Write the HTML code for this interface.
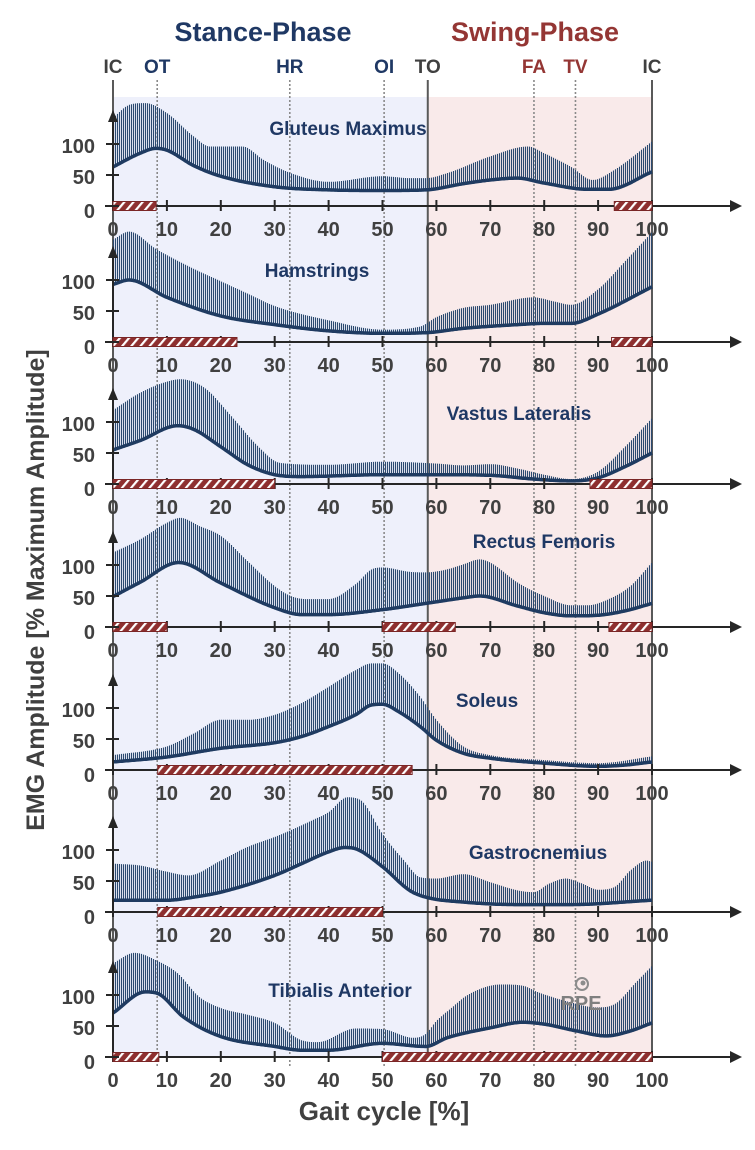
<!DOCTYPE html>
<html><head><meta charset="utf-8">
<style>
html,body{margin:0;padding:0;background:#fff;}
svg{display:block;font-family:"Liberation Sans",sans-serif;}
</style></head>
<body>
<svg id="chart" width="755" height="1150" viewBox="0 0 755 1150" xmlns="http://www.w3.org/2000/svg">
<defs>
<pattern id="hatchRed" patternUnits="userSpaceOnUse" width="7" height="7" patternTransform="rotate(40)">
<rect width="7" height="7" fill="#8e2f2f"/>
<rect x="0" y="0" width="2.2" height="7" fill="#ffffff"/>
</pattern>
</defs>
<g id="bg"></g>
<g id="plots"></g>
<g id="labels"></g>
</svg>
<script>
// ---- data ----
const muscleNames = ["Gluteus Maximus","Hamstrings","Vastus Lateralis","Rectus Femoris","Soleus","Gastrocnemius","Tibialis Anterior"];
const xTicks = [0,10,20,30,40,50,60,70,80,90,100];
const yTicks = [0,50,100];
const eventNames = ["IC","OT","HR","OI","TO","FA","TV","IC"];
const eventPct = [0,8.2,32.8,50.3,58.4,78.1,85.8,100];

const glutMeanX = [0,5,8,10,15,20,30,40,50,58,65,70,75,80,88,92,100];
const glutMeanY = [63,85,93,90,65,48,31,26,25,26,36,42,45,37,27,27,55];
const glutUpX = [0,3,6,10,15,18,24,28,33,40,50,55,58,62,70,77,80,85,89,93,100];
const glutUpY = [142,163,166,150,112,96,96,74,53,39,48,45,45,53,80,96,85,63,42,58,104];

const hamMeanX = [0,3,10,20,30,40,50,58,65,75,80,85,90,100];
const hamMeanY = [93,100,72,42,28,18,14,15,22,28,30,30,45,89];
const hamUpX = [0,3,8,15,20,25,30,40,50,57,60,65,70,78,82,85,90,95,100];
const hamUpY = [165,178,150,118,98,78,58,35,20,25,40,55,60,72,65,60,85,130,177];

const vasMeanX = [0,5,12,15,20,25,30,35,50,60,70,78,85,90,95,100];
const vasMeanY = [55,70,94,88,60,31,15,12,15,15,14,8,5,10,28,50];
const vasUpX = [0,5,10,12.5,17,22,27,31,40,50,60,65,70,75,80,85,90,95,100];
const vasUpY = [119,147,165,169,155,109,60,34,31,36,33,30,32,25,15,8,20,60,106];

const recMeanX = [0,5,12.2,20,30,35,40,50,58,65,68,75,80,85,90,95,100];
const recMeanY = [49,72,104,71,31,20,20,28,38,47,50,34,23,18,19,26,38];
const recUpX = [0,5,10,12.5,16,20,25,30,33,36,40,45,48,50,55,58,62,65,68,70,75,80,85,88,92,96,100];
const recUpY = [120,141,168,176,163,147,106,66,50,45,45,69,93,96,89,88,93,101,109,104,72,50,35,35,45,66,104];

const solMeanX = [0,10,20,30,35,40,45,48,50,53,57,60,65,70,80,90,95,100];
const solMeanY = [13,21,35,44,54,70,89,105,106,94,70,48,27,19,11,6,8,13];
const solUpX = [0,10,15,20,25,30,35,40,45,48,50,53,57,60,65,70,80,90,100];
const solUpY = [24,38,59,81,81,89,108,134,161,172,172,156,118,81,38,24,16,11,22];

const gasMeanX = [0,10,15,20,30,35,40,43,45,50,55,58,65,75,85,100];
const gasMeanY = [19,19,24,32,59,78,97,104,102,73,35,24,16,12,12,19];
const gasUpX = [0,5,10,14,20,25,30,33,37,40,43.5,46,50,54,57,60,65,70,75,78,81,84,87,90,93,96,99,100];
const gasUpY = [78,75,65,59,83,105,121,132,148,161,185,180,126,83,56,54,61,48,35,32,46,54,46,36,40,67,83,81];

const tibMeanX = [0,6,8.4,13,20,30,35,40,50,58,62,70,76,80,86,91.5,96,100];
const tibMeanY = [71,105,102,65,33,17,11,11,22,17,31,47,56,53,42,34,42,55];
const tibUpX = [0,4,8,12,16,20,25,30,35,38,45,50,55.7,58,60,62.5,66,72,76,79,85,89.7,93,97,100];
const tibUpY = [151,168,156,135,97,79,68,55,27,24,46,45,31,37,58,77,101,117,115,104,88,80,85,120,147];

const activeStart = [[0,93],[0,92.5],[0,88.5],[0,50,92],[8.3],[8.3],[0,50]];
const activeEnd = [[8,100],[23,100],[30,100],[10,63.5,100],[55.5],[50],[8.5,100]];

// ---- layout ----
const baselines=[206,342,484,627,770,912,1057];
const titlePos=[[348,-78],[317,-72],[519,-71],[544,-86],[487,-70],[538,-60],[340,-67]];
const X0=113, PX=5.39, PY=0.62;
function X(p){return X0+p*PX;}
function Y(v,b){return b-v*PY;}
const NS="http://www.w3.org/2000/svg";
function mk(tag,attrs,parent){const e=document.createElementNS(NS,tag);for(const k in attrs)e.setAttribute(k,attrs[k]);parent.appendChild(e);return e;}

function monotone(xs,ys){
  const n=xs.length,d=[],m=new Array(n);
  for(let i=0;i<n-1;i++)d.push((ys[i+1]-ys[i])/(xs[i+1]-xs[i]));
  m[0]=d[0];m[n-1]=d[n-2];
  for(let i=1;i<n-1;i++){m[i]=(d[i-1]*d[i]<=0)?0:(d[i-1]+d[i])/2;}
  for(let i=0;i<n-1;i++){if(d[i]===0){m[i]=0;m[i+1]=0;continue;}const a=m[i]/d[i],b=m[i+1]/d[i],s=a*a+b*b;if(s>9){const t=3/Math.sqrt(s);m[i]=t*a*d[i];m[i+1]=t*b*d[i];}}
  return function(x){
    let i=0;while(i<n-2&&x>xs[i+1])i++;
    const h=xs[i+1]-xs[i],t=Math.min(1,Math.max(0,(x-xs[i])/h));
    const t2=t*t,t3=t2*t;
    return (2*t3-3*t2+1)*ys[i]+(t3-2*t2+t)*h*m[i]+(-2*t3+3*t2)*ys[i+1]+(t3-t2)*h*m[i+1];
  };
}

const series=[[glutMeanX,glutMeanY,glutUpX,glutUpY],[hamMeanX,hamMeanY,hamUpX,hamUpY],[vasMeanX,vasMeanY,vasUpX,vasUpY],[recMeanX,recMeanY,recUpX,recUpY],[solMeanX,solMeanY,solUpX,solUpY],[gasMeanX,gasMeanY,gasUpX,gasUpY],[tibMeanX,tibMeanY,tibUpX,tibUpY]];

const bg=document.getElementById('bg'),plots=document.getElementById('plots'),labels=document.getElementById('labels');
let r=mk('rect',{x:X(0),y:97,width:X(58.4)-X(0),height:1057-97,fill:'#eef0fb'},bg);


r=mk('rect',{x:X(58.4),y:97,width:X(100)-X(58.4),height:1057-97,fill:'#f9eaea'},bg);


eventPct.forEach((p,i)=>{
  const solid=(i===0||i===4||i===7);
  const l=mk('line',{x1:X(p),x2:X(p),y1:80,y2:solid?1057:1068,stroke:solid?'#595959':'#8a8a8a','stroke-width':solid?2:1.6,'stroke-dasharray':solid?'none':'2,2'},bg);
  
  
  const col=(i===1||i===2||i===3)?'#1f3864':(i===5||i===6)?'#943634':'#404040';
  const t=mk('text',{x:X(p),y:73,'text-anchor':'middle','font-size':19,'font-weight':'bold',fill:col},labels);
  t.textContent=eventNames[i];
  
  
});

series.forEach((s,k)=>{
  const b=baselines[k];
  const fm=monotone(s[0],s[1]),fu=monotone(s[2],s[3]);
  const g=mk('g',{},plots);
  
  
  let d='';
  for(let px=X(0)+0.5;px<=X(100);px+=2){
    const p=(px-X0)/PX;
    d+='M'+px.toFixed(1)+' '+Y(fm(p),b).toFixed(1)+'V'+Y(fu(p),b).toFixed(1);
  }
  const h=mk('path',{d:d,stroke:'#2b4a70','stroke-width':1.1,fill:'none'},g);
  
  
  let md='';
  for(let px=X(0);px<=X(100)+0.01;px+=1){const p=Math.min(100,(px-X0)/PX);md+=(md?'L':'M')+px.toFixed(1)+' '+Y(fm(p),b).toFixed(1);}
  const ml=mk('path',{d:md,stroke:'#1f3b61','stroke-width':3.5,fill:'none','stroke-linejoin':'round'},g);
  
  
  const xa=mk('line',{x1:105,x2:732,y1:b,y2:b,stroke:'#262626','stroke-width':2},g);
  
  
  const ah=mk('path',{d:`M742 ${b}L730 ${b-6}L730 ${b+6}Z`,fill:'#262626'},g);
  
  
  const ya=mk('line',{x1:X0,x2:X0,y1:b,y2:b-88,stroke:'#262626','stroke-width':2},g);
  
  
  const yh=mk('path',{d:`M${X0} ${b-96}L${X0-5} ${b-84}L${X0+5} ${b-84}Z`,fill:'#262626'},g);
  
  
  xTicks.forEach(v=>{
    const tl=mk('line',{x1:X(v),x2:X(v),y1:b-6,y2:b+5,stroke:'#262626','stroke-width':2},g);
    
    
    const tt=mk('text',{x:X(v),y:b+30,'text-anchor':'middle','font-size':20,'font-weight':'bold',fill:'#404040'},g);
    tt.textContent=v;
    
    
  });
  activeStart[k].forEach((a,j)=>{
    const e=activeEnd[k][j];
    const br=mk('rect',{x:X(a),y:b-4.5,width:X(e)-X(a),height:9,fill:'url(#hatchRed)',stroke:'#7a2626','stroke-width':1},g);
    
    
  });
  yTicks.forEach(v=>{
    const tl=mk('line',{x1:106,x2:119,y1:Y(v,b),y2:Y(v,b),stroke:'#262626','stroke-width':2},g);
    
    
    const tt=mk('text',{x:95,y:Y(v,b)+(v===0?12:9),'text-anchor':'end','font-size':20,'font-weight':'bold',fill:'#404040'},g);
    tt.textContent=v;
    
    
  });
  const tp=titlePos[k];
  const ti=mk('text',{x:tp[0],y:b+tp[1]+7,'text-anchor':'middle','font-size':19,'font-weight':'bold',fill:'#1f3864'},g);
  ti.textContent=muscleNames[k];
  
  
});
</script>
<svg style="position:absolute;left:0;top:0" width="755" height="1150">
<text x="263" y="41" text-anchor="middle" font-family="Liberation Sans, sans-serif" font-size="27" font-weight="bold" fill="#1f3864">Stance-Phase</text>
<text x="535" y="41" text-anchor="middle" font-family="Liberation Sans, sans-serif" font-size="27" font-weight="bold" fill="#943634">Swing-Phase</text>
<text transform="translate(44,590) rotate(-90)" text-anchor="middle" font-family="Liberation Sans, sans-serif" font-size="25" font-weight="bold" fill="#404040">EMG Amplitude [% Maximum Amplitude]</text>
<text x="384" y="1120" text-anchor="middle" font-family="Liberation Sans, sans-serif" font-size="26" font-weight="bold" fill="#404040">Gait cycle [%]</text>
<g>
<circle cx="582" cy="984" r="6" fill="none" stroke="#8c8c8c" stroke-width="2"/>
<circle cx="583" cy="983" r="2.5" fill="#8c8c8c"/>
<text x="581" y="1010" text-anchor="middle" font-family="Liberation Sans, sans-serif" font-size="20" font-weight="bold" fill="#7f7f7f">RPE</text>
</g>
</svg>
</body></html>
